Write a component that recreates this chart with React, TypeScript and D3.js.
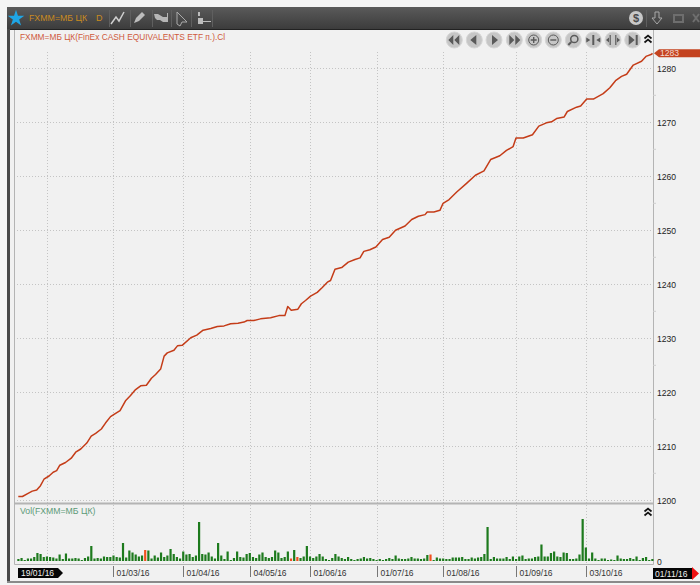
import React from "react";
import * as d3 from "d3";

const symbol = "FXMM=МБ ЦК";
const chartTitle = "FXMM=МБ ЦК(FinEx CASH EQUIVALENTS ETF п.).Cl";
const volTitle = "Vol(FXMM=МБ ЦК)";
const priceTicks = [1200, 1210, 1220, 1230, 1240, 1250, 1260, 1270, 1280];
const dateTickIdx = [9, 30, 52, 73, 92, 113, 134, 157, 179];
const dateTickLabels = ["", "01/03/16", "01/04/16", "04/05/16", "01/06/16", "01/07/16", "01/08/16", "01/09/16", "03/10/16"];
const priceIdx = [0, 1.3, 2.8, 4.4, 5.8, 7, 8.1, 9.7, 11, 12.1, 13.1, 14.9, 16.7, 18.1, 19.7, 21.6, 23, 24.4, 26.2, 27.5, 29.1, 30.7, 32.1, 33.9, 35.4, 37, 38.6, 40.4, 42, 43.3, 44.9, 46, 47, 49.1, 50.2, 51.7, 54.4, 56.3, 58.3, 60.7, 62.8, 64.9, 67, 69.3, 71.2, 72.2, 74.3, 76.4, 79.6, 82.2, 84.1, 85, 86.1, 88.2, 89.3, 90.6, 92.2, 94.3, 95.9, 97.5, 98.5, 99.9, 102, 104.1, 106.2, 107.8, 109, 110.9, 112.8, 114.9, 117, 119, 122, 124.1, 126.2, 128.3, 129, 131.1, 133, 134, 135.9, 138.3, 141.4, 144.2, 146.9, 149, 151.9, 154, 156.1, 157, 159.3, 162.2, 164.2, 166.6, 168.2, 169.8, 172.2, 173.2, 176.1, 177.4, 179.3, 181.4, 184.5, 186.6, 188.4, 190.3, 191.9, 194, 196.6, 198, 199.8, 200];
const priceVal = [1200.7, 1200.7, 1201.2, 1201.7, 1201.9, 1202.7, 1203.9, 1204.5, 1205.2, 1205.5, 1206.5, 1207.0, 1207.8, 1208.9, 1209.5, 1210.6, 1211.9, 1212.4, 1213.2, 1214.3, 1215.5, 1216.1, 1216.6, 1218.5, 1219.4, 1220.5, 1221.2, 1221.3, 1222.6, 1223.3, 1224.3, 1226.7, 1227.3, 1227.8, 1228.6, 1228.7, 1230.1, 1230.6, 1231.5, 1231.8, 1232.2, 1232.3, 1232.7, 1232.8, 1233.0, 1233.3, 1233.3, 1233.6, 1233.8, 1234.2, 1234.2, 1235.9, 1235.2, 1235.4, 1236.4, 1237.0, 1237.8, 1238.5, 1239.4, 1240.4, 1240.7, 1242.8, 1243.1, 1244.1, 1244.6, 1244.9, 1246.1, 1246.4, 1246.9, 1248.3, 1248.7, 1250, 1250.8, 1252, 1252.6, 1252.9, 1253.4, 1253.4, 1253.7, 1255, 1255.7, 1257.1, 1258.7, 1260.2, 1261, 1263.1, 1263.8, 1264.8, 1265.5, 1267.1, 1267.1, 1267.7, 1269.3, 1269.9, 1270.1, 1270.7, 1271, 1272, 1272.8, 1273, 1274.3, 1274.3, 1275.3, 1276.4, 1277.7, 1278.5, 1278.9, 1280.6, 1281.3, 1282.2, 1282.6, 1282.8];
const volumes = [2, 3, 1, 2.5, 2.5, 4, 8, 7, 4, 4.5, 4, 3.5, 2.5, 6.5, 2, 7.5, 2.5, 2.5, 3, 2.5, 1, 3, 4.5, 15, 2.5, 3, 2.5, 4.5, 4, 4, 5.5, 4, 3.5, 18, 3.5, 10.5, 8.5, 6.5, 4.5, 5.5, 11, 10.5, 2.5, 5.5, 3.5, 8.5, 4, 5.5, 12, 7, 4, 2.5, 9.5, 6.5, 7, 4, 5.5, 39, 7, 6.5, 8.5, 4.5, 2.5, 18, 5.5, 2, 9.5, 1, 3, 9.5, 4, 3.5, 7, 8, 4, 3, 6.5, 8.5, 4, 3, 4, 10.5, 8.5, 3, 4, 9.5, 2.5, 11, 4, 3, 4.5, 15, 4.5, 3, 4.5, 7, 4.5, 2, 1, 3, 7, 4.5, 3, 2, 4, 2, 1, 2, 2.5, 4, 2.5, 3, 2, 1, 2, 1, 2, 3, 2, 5.5, 2.5, 2, 2, 2.5, 4, 2.5, 2.5, 2, 2.5, 6, 6.5, 1, 3.5, 2.5, 2.5, 2, 2, 3.5, 3.5, 3.5, 4, 2, 2, 3.5, 2.5, 3.5, 4, 7, 34, 2, 4, 2.5, 2.5, 2.5, 4, 2, 4.5, 2, 4.5, 5.5, 2, 2.5, 2.5, 4, 4.5, 16.5, 4.5, 4.5, 8, 9.5, 4.5, 4, 8.5, 8, 2, 2, 2.5, 6.5, 42, 13.5, 2.5, 8.5, 2.5, 1, 2.5, 2.5, 1, 1.5, 1, 5.5, 2.5, 2, 2, 3, 2, 4.5, 1, 3, 4, 1, 2];
const redVolumeIdx = [40, 86, 88, 130];

const DARK = "#484848";
const PANEL = "#f1f1f1";
const FRAME = "#b4b4b4";
const RED = "#c43c18";
const GREEN = "#1d7a1d";
const FONT = "'Liberation Sans', Arial, sans-serif";

const x = d3.scaleLinear().domain([0, 200]).range([18.3, 652.3]);
const y = d3.scaleLinear().domain([1200, 1280]).range([500.3, 68.3]);
const yVol = d3.scaleLinear().domain([0, 42]).range([561, 519]);
const line = d3.line<number>().x((_, i) => x(priceIdx[i])).y((d) => y(d)).curve(d3.curveLinear);

const navCx = [454.3, 474.3, 494, 514.3, 533.7, 553.3, 573.3, 593.3, 613, 632.7];
const G = "#5a5a5a";

function NavGlyph({ i }: { i: number }) {
  switch (i) {
    case 0: return <path d="M-1,-5 L-1,5 L-6,0Z M5,-5 L5,5 L0,0Z" fill={G} />;
    case 1: return <path d="M2,-5 L2,5 L-4,0Z" fill={G} />;
    case 2: return <path d="M-2,-5 L-2,5 L4,0Z" fill={G} />;
    case 3: return <path d="M-5,-5 L-5,5 L0,0Z M1,-5 L1,5 L6,0Z" fill={G} />;
    case 4: return <g fill="none" stroke={G}><circle r="5" /><path d="M-3,0H3M0,-3V3" strokeWidth="1.4" /></g>;
    case 5: return <g fill="none" stroke={G}><circle r="5" /><path d="M-3,0H3" strokeWidth="1.4" /></g>;
    case 6: return <g fill="none" stroke={G} strokeWidth="1.5"><circle cx="1" cy="-1" r="3.6" /><path d="M-2,2L-5,5" strokeWidth="2" /></g>;
    case 7: return <g fill={G}><path d="M-1,-5H1V5H-1Z" /><path d="M-7,-2.5 L-3,0 L-7,2.5Z M7,-2.5 L3,0 L7,2.5Z" /></g>;
    case 8: return <g fill={G}><path d="M-3.4,-5H-2.2V5H-3.4Z M2.2,-5H3.4V5H2.2Z" /><path d="M-4,-2.5 L-7,0 L-4,2.5Z M4,-2.5 L7,0 L4,2.5Z" /></g>;
    default: return <path d="M-4,-5 L-4,5 L2,0Z M3,-5H5V5H3Z" fill={G} />;
  }
}

function Chevrons({ cx, cy }: { cx: number; cy: number }) {
  return (
    <path transform={`translate(${cx},${cy})`} d="M-3.5,-0.5 L0,-3.5 L3.5,-0.5 M-3.5,3.5 L0,0.5 L3.5,3.5" fill="none" stroke="#111" strokeWidth="1.7" />
  );
}

export default function App() {
  const gridX = dateTickIdx.map((d) => x(d));
  const lastY = y(priceVal[priceVal.length - 1]);
  return (
    <svg width={700} height={585} style={{ position: "absolute", left: 0, top: 0, display: "block" }} fontFamily={FONT}>
      <defs>
        <linearGradient id="hdr" x1="0" y1="0" x2="0" y2="1">
          <stop offset="0" stopColor="#5a5a5a" />
          <stop offset="1" stopColor="#3c3c3c" />
        </linearGradient>
      </defs>
      <rect width={700} height={585} fill="#f4f4f4" />
      <rect x={7} y={7} width={693} height={22} fill="url(#hdr)" />
      <rect x={7} y={29} width={3} height={554} fill={DARK} />
      <rect x={10} y={29} width={690} height={552} fill={PANEL} />
      <rect x={7} y={581} width={693} height={2} fill="#8a8a8a" />
      <rect x={10} y={29} width={690} height={1} fill="#222" />

      {/* header */}
      <path transform="translate(16,18.5)" d={d3.symbol(d3.symbolStar, 85)() as string} fill="#1fa6e6" />
      <text x={29} y={21} fontSize={8.8} fill="#c98a1f">{symbol}</text>
      <text x={96} y={21} fontSize={9} fill="#c98a1f">D</text>
      {[109, 130, 152, 171, 191, 212].map((s) => <path key={s} d={`M${s + 0.5},10V27`} stroke="#5f5f5f" />)}
      <path d="M111,24 L116,17 L119,21 L124,12" fill="none" stroke="#cfcfcf" strokeWidth="1.5" />
      <path d="M134,23 L136,18 L142,12 L145,15 L139,21Z" fill="#bdbdbd" />
      <path d="M154,14H158L163,17H167V13H168V22H163L160,20H157L155,18Z" fill="#b5b5b5" />
      <path d="M177,12 L187,22 L182,22 L180,26 L177,24Z" fill="none" stroke="#aaaaaa" />
      <path d="M198,12h2v4h-2z M198,18h5v3h8v1h-8v2h-5z" fill="#bcbcbc" />
      <circle cx={636} cy={18} r={7} fill="#c8c8c8" />
      <text x={636} y={22} fontSize={11} fontWeight={700} textAnchor="middle" fill="#4a4a4a">$</text>
      <path d="M646.5,10V27" stroke="#5f5f5f" />
      <path d="M655,12H659V18H662L657,24L652,18H655Z" fill="none" stroke="#a8a8a8" />
      <rect x={674} y={15} width={9} height={7} fill="none" stroke="#6e6e6e" strokeWidth="2" />
      <path d="M693,14L699,22M699,14L693,22" stroke="#6e6e6e" strokeWidth="2" />

      {/* grid */}
      <g stroke="#c4c4c4" strokeDasharray="1 2">
        {priceTicks.map((t) => <path key={t} d={`M14,${Math.round(y(t)) + 0.5}H653`} />)}
        {gridX.map((gx, i) => <path key={i} d={`M${Math.round(gx) + 0.5},52V564`} />)}
      </g>

      {/* frames */}
      <path d="M14.5,30V564.5H653.5V30" fill="none" stroke={FRAME} />
      <path d="M14,503.5H653" stroke={FRAME} strokeWidth="2" />

      {/* title */}
      <text x={20} y={39.5} fontSize={8.35} fill="#cf5a3c">{chartTitle}</text>
      <text x={20} y={514} fontSize={8.7} fill="#5c9a78">{volTitle}</text>

      {/* price line */}
      <path d={line(priceVal) as string} fill="none" stroke={RED} strokeWidth={1.5} strokeLinejoin="round" />

      {/* volume */}
      {volumes.map((v, i) => (
        <rect key={i} x={x(i) - 1} width={2.2} y={yVol(v)} height={yVol(0) - yVol(v)} fill={redVolumeIdx.includes(i) ? "#f0501e" : GREEN} />
      ))}

      {/* navigation */}
      {navCx.map((cx, i) => (
        <g key={i} transform={`translate(${cx},40)`}>
          <circle r={8} fill="#c6c6c6" stroke="#d6d6d6" />
          <NavGlyph i={i} />
        </g>
      ))}
      <Chevrons cx={648} cy={39} />
      <Chevrons cx={648} cy={512} />

      {/* price axis */}
      {priceTicks.map((t) => (
        <text key={t} x={657} y={y(t) + 3.5} fontSize={8.6} fill="#222">{t}</text>
      ))}
      {[0.5, 1.5, 2.5, 3.5, 4.5, 5.5, 6.5, 7.5].map((k) => (
        <path key={k} d={`M653,${y(1200 + k * 10)}h3`} stroke="#cfcfcf" />
      ))}
      <text x={657} y={564.5} fontSize={8.6} fill="#222">0</text>
      <path d={`M654,${lastY} L659,${lastY - 4} H700 V${lastY + 4} H659Z`} fill="#c4431f" />
      <text x={660} y={lastY + 3.2} fontSize={8.6} fill="#f4d9cf">1283</text>

      {/* date axis */}
      {gridX.map((gx, i) => dateTickLabels[i] ? (
        <g key={i}>
          <path d={`M${Math.round(gx) + 0.5},566V577`} stroke="#777" />
          <text x={Math.round(gx) + 3.5} y={576} fontSize={8.5} fill="#333">{dateTickLabels[i]}</text>
        </g>
      ) : null)}
      <path d="M18,568H58L63,573L58,578H18Z" fill="#060606" />
      <text x={21} y={576} fontSize={8.5} fill="#f0f0f0">19/01/16</text>
      <rect x={653} y={568} width={39} height={11} fill="#060606" />
      <path d="M692,567L699,573.5L692,580Z" fill="#ee1111" />
      <text x={655} y={576.5} fontSize={8.5} fill="#f0f0f0">01/11/16</text>
    </svg>
  );
}
